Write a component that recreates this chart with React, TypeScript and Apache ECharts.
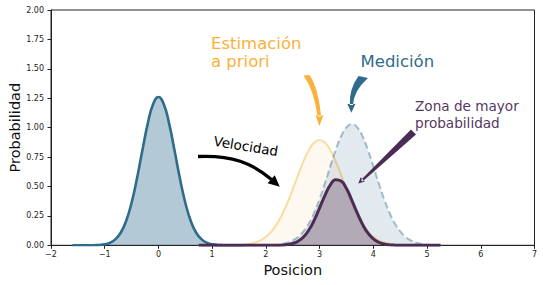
import React, { useEffect, useRef } from "react";
import * as echarts from "echarts";

// Initial position belief (left bell curve)
const posA = [-1.6, -1.5, -1.4, -1.3, -1.2, -1.1, -1.0, -0.9, -0.8, -0.7, -0.6, -0.5, -0.4, -0.3, -0.2, -0.1, 0, 0.1, 0.2, 0.3, 0.4, 0.5, 0.6, 0.7, 0.8, 0.9, 1.0, 1.1, 1.2, 1.3, 1.4, 1.5, 1.6];
const initialBelief = [0, 0, 0, 0, 0.001, 0.003, 0.009, 0.022, 0.052, 0.109, 0.209, 0.362, 0.567, 0.805, 1.032, 1.199, 1.26, 1.199, 1.032, 0.805, 0.567, 0.362, 0.209, 0.109, 0.052, 0.022, 0.009, 0.003, 0.001, 0, 0, 0, 0];

// Positions for the right-hand curves
const posB = [0.75, 0.8, 0.9, 1.0, 1.1, 1.2, 1.3, 1.4, 1.5, 1.6, 1.7, 1.8, 1.9, 2.0, 2.1, 2.2, 2.3, 2.4, 2.5, 2.6, 2.7, 2.8, 2.9, 3.0, 3.1, 3.2, 3.3, 3.4, 3.5, 3.6, 3.7, 3.8, 3.9, 4.0, 4.1, 4.2, 4.3, 4.4, 4.5, 4.6, 4.7, 4.8, 4.9, 5.0, 5.1, 5.2, 5.25];
// Estimación a priori
const priorEstimate = [0, 0, 0, 0, 0, 0, 0, 0.001, 0.003, 0.006, 0.013, 0.024, 0.042, 0.072, 0.116, 0.178, 0.26, 0.361, 0.476, 0.598, 0.713, 0.809, 0.873, 0.895, 0.873, 0.809, 0.713, 0.598, 0.476, 0.361, 0.26, 0.178, 0.116, 0.072, 0.042, 0.024, 0.013, 0.006, 0.003, 0.001, 0, 0, 0, 0, 0, 0, 0];
// Medición
const measurement = [0, 0, 0, 0, 0, 0, 0, 0, 0, 0, 0, 0, 0, 0.001, 0.003, 0.005, 0.011, 0.022, 0.041, 0.071, 0.118, 0.186, 0.278, 0.394, 0.528, 0.672, 0.81, 0.926, 1.003, 1.03, 1.003, 0.926, 0.81, 0.672, 0.528, 0.394, 0.278, 0.186, 0.118, 0.071, 0.041, 0.022, 0.011, 0.005, 0.003, 0.001, 0];
// Zona de mayor probabilidad
const posterior = [0, 0, 0, 0, 0, 0, 0, 0, 0, 0, 0, 0, 0, 0, 0, 0, 0.002, 0.006, 0.016, 0.035, 0.071, 0.13, 0.214, 0.318, 0.425, 0.513, 0.557, 0.546, 0.482, 0.383, 0.275, 0.178, 0.103, 0.054, 0.026, 0.011, 0.004, 0.001, 0, 0, 0, 0, 0, 0, 0, 0, 0];

const xTicks = { min: -2, max: 7, interval: 1 };
const yTicks = { min: 0, max: 2, interval: 0.25 };

const FONT = '"DejaVu Sans", Verdana, sans-serif';
const BLUE = "#2f6b8b";
const ORANGE = "#fbb03b";
const PURPLE = "#4b2c55";

let registered = false;
function registerShapes() {
  if (registered) return;
  registered = true;
  echarts.graphic.registerShape(
    "arrowOrange",
    echarts.graphic.extendPath(
      "M303.5 75.5 Q314 90 317.6 116.5 L321 116.5 Q318.5 88 309.5 75 Z M315.6 115.5 L323.3 115.5 L319.4 126 Z",
      {}
    )
  );
  echarts.graphic.registerShape(
    "arrowBlue",
    echarts.graphic.extendPath(
      "M358.5 76 Q349 89 349.8 105 L353 105 Q353.5 91 368 78 Z M347.4 104 L355.4 104 L351.3 112.8 Z",
      {}
    )
  );
  echarts.graphic.registerShape(
    "arrowPurple",
    echarts.graphic.extendPath(
      "M416 134.5 L411 129.5 L361 180 L362.5 181.5 Z M358.3 183.6 L360.7 177.2 L364.7 181.6 Z",
      {}
    )
  );
}

const pairs = (xs: number[], ys: number[]) => xs.map((x, i) => [x, ys[i]]);

export default function App() {
  const ref = useRef<HTMLDivElement>(null);
  useEffect(() => {
    if (!ref.current) return;
    registerShapes();
    const chart = echarts.init(ref.current, null, { renderer: "svg" });
    chart.setOption({
      animation: false,
      backgroundColor: "#ffffff",
      grid: {
        left: 51,
        right: 8.5,
        top: 10,
        bottom: 39.7,
        containLabel: false,
        outerBoundsMode: "none",
        show: true,
        borderColor: "#222",
        borderWidth: 1,
        backgroundColor: "transparent",
      },
      xAxis: {
        type: "value",
        min: xTicks.min,
        max: xTicks.max,
        interval: xTicks.interval,
        name: "Posicion",
        nameLocation: "middle",
        nameGap: 17,
        nameMoveOverlap: false,
        nameTextStyle: { fontSize: 14.5, color: "#111", fontFamily: FONT },
        axisLine: { show: true, onZero: false, lineStyle: { color: "#222", width: 1 } },
        axisTick: { show: true, length: 3.5, lineStyle: { color: "#222" } },
        axisLabel: {
          fontSize: 8,
          color: "#222",
          fontFamily: FONT,
          margin: 5,
          formatter: (v: number) => (v < 0 ? "\u2212" + Math.abs(v) : String(v)),
        },
        splitLine: { show: false },
      },
      yAxis: {
        type: "value",
        min: yTicks.min,
        max: yTicks.max,
        interval: yTicks.interval,
        name: "Probabilidad",
        nameLocation: "middle",
        nameGap: 29,
        nameMoveOverlap: false,
        nameTextStyle: { fontSize: 14.5, color: "#111", fontFamily: FONT },
        axisLine: { show: true, onZero: false, lineStyle: { color: "#222", width: 1 } },
        axisTick: { show: true, length: 3.5, lineStyle: { color: "#222" } },
        axisLabel: {
          fontSize: 8,
          color: "#222",
          fontFamily: FONT,
          margin: 7,
          formatter: (v: number) => v.toFixed(2),
        },
        splitLine: { show: false },
      },
      series: [
        {
          type: "line",
          data: pairs(posA, initialBelief),
          smooth: 0.5,
          symbol: "none",
          lineStyle: { color: BLUE, width: 2.6 },
          areaStyle: { color: "rgba(47,107,139,0.52)" },
          z: 2,
        },
        {
          type: "line",
          data: pairs(posB, priorEstimate),
          smooth: 0.5,
          symbol: "none",
          lineStyle: { color: "rgba(246,174,45,0.42)", width: 2 },
          areaStyle: { color: "rgba(246,174,45,0.1)" },
          z: 3,
        },
        {
          type: "line",
          data: pairs(posB, measurement),
          smooth: 0.5,
          symbol: "none",
          lineStyle: { color: "rgba(47,107,139,0.42)", width: 2, type: [7, 3.5] },
          areaStyle: { color: "rgba(47,107,139,0.2)" },
          z: 4,
        },
        {
          type: "line",
          data: pairs(posB, posterior),
          smooth: 0.5,
          symbol: "none",
          lineStyle: { color: PURPLE, width: 3 },
          areaStyle: { color: "rgba(75,44,85,0.45)" },
          z: 5,
        },
      ],
      graphic: [
        {
          type: "text",
          x: 211,
          y: 43.5,
          style: { text: "Estimación", fill: ORANGE, font: `16.5px ${FONT}`, align: "left", verticalAlign: "middle" },
          z: 100,
        },
        {
          type: "text",
          x: 211,
          y: 61.9,
          style: { text: "a priori", fill: ORANGE, font: `16.5px ${FONT}`, align: "left", verticalAlign: "middle" },
          z: 100,
        },
        {
          type: "text",
          x: 360.5,
          y: 61.9,
          style: { text: "Medición", fill: BLUE, font: `16.5px ${FONT}`, align: "left", verticalAlign: "middle" },
          z: 100,
        },
        {
          type: "text",
          x: 415,
          y: 105.5,
          style: { text: "Zona de mayor", fill: "#55375e", font: `13.6px ${FONT}`, align: "left", verticalAlign: "middle" },
          z: 100,
        },
        {
          type: "text",
          x: 415,
          y: 122.8,
          style: { text: "probabilidad", fill: "#55375e", font: `13.6px ${FONT}`, align: "left", verticalAlign: "middle" },
          z: 100,
        },
        {
          type: "text",
          x: 246,
          y: 146,
          rotation: -0.162,
          style: { text: "Velocidad", x: 0, y: 0, fill: "#000", font: `13.5px ${FONT}`, align: "center", verticalAlign: "middle" },
          z: 100,
        },
        { type: "arrowOrange", x: 0, y: 0, style: { fill: ORANGE, stroke: "none" }, z: 100 },
        { type: "arrowBlue", x: 0, y: 0, style: { fill: BLUE, stroke: "none" }, z: 100 },
        { type: "arrowPurple", x: 0, y: 0, style: { fill: PURPLE, stroke: "none" }, z: 100 },
        {
          type: "bezierCurve",
          shape: { x1: 198, y1: 156.5, cpx1: 232, cpy1: 155, cpx2: 252, cpy2: 163, x2: 271.5, y2: 179.5 },
          style: { stroke: "#000", lineWidth: 3.3, fill: "none" },
          z: 100,
        },
        {
          type: "polygon",
          shape: { points: [[279.8, 186.8], [267.6, 183.3], [274.7, 175.3]] },
          style: { fill: "#000" },
          z: 100,
        },
      ],
    });
    return () => chart.dispose();
  }, []);
  return (
    <div
      ref={ref}
      style={{ position: "fixed", left: 0, top: 0, width: 543, height: 285, background: "#fff" }}
    />
  );
}
